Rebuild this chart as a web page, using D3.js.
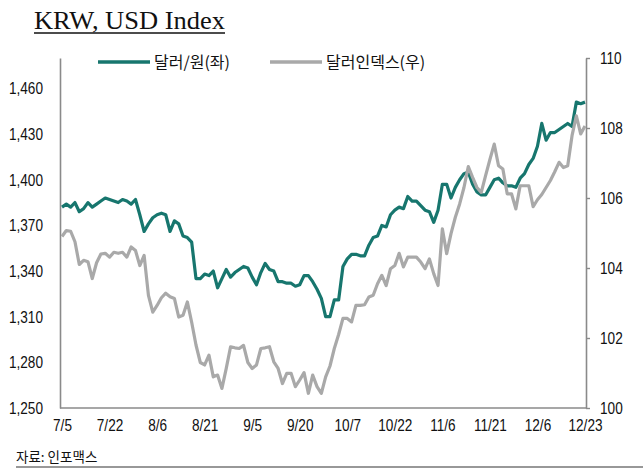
<!DOCTYPE html>
<html>
<head>
<meta charset="utf-8">
<script src="https://cdn.jsdelivr.net/npm/d3@7"></script>
<style>
  body { margin: 0; background: #fff; }
  svg text { font-family: "Liberation Sans Narrow", "Arial Narrow", "Liberation Sans", sans-serif; fill: #111; }
</style>
</head>
<body>
<div id="chart"></div>
<script>
// x axis: one point per weekday, a label every 11 points
const tickLabels = ["7/5", "7/22", "8/6", "8/21", "9/5", "9/20", "10/7", "10/22", "11/6", "11/21", "12/6", "12/23"];
const tickStep = 11;

// 달러/원 (left axis)
const krw = [
  1382, 1384, 1382, 1385, 1379, 1381, 1385, 1382, 1384, 1386,
  1388, 1387, 1386, 1385, 1387, 1386, 1384, 1387, 1377, 1366,
  1371, 1375, 1377, 1378, 1377, 1366, 1373, 1371, 1363, 1362,
  1359, 1335, 1335, 1338, 1337, 1340, 1329, 1335, 1341, 1336,
  1339, 1341, 1343, 1342, 1336, 1331, 1339, 1345, 1341, 1340,
  1333, 1333, 1332, 1332, 1330, 1331, 1337, 1337, 1333, 1328,
  1322, 1310, 1310, 1321, 1321, 1343, 1348, 1351, 1351, 1350,
  1350, 1357, 1362, 1363, 1370, 1369, 1377, 1380, 1382, 1381,
  1389, 1386, 1386, 1383, 1380, 1379, 1372, 1380, 1397, 1397,
  1388, 1395, 1400, 1404, 1405, 1397, 1392, 1390, 1390, 1395,
  1400, 1401, 1398, 1396, 1396, 1395, 1401, 1404, 1410, 1414,
  1422, 1437, 1426, 1431, 1431, 1433, 1435, 1437, 1435, 1451,
  1450, 1451
];

// 달러인덱스 (right axis)
const dxy = [
  104.90, 105.07, 105.05, 104.75, 104.10, 104.22, 104.18, 103.70, 104.15, 104.40,
  104.42, 104.31, 104.45, 104.42, 104.45, 104.31, 104.60, 104.50, 104.07, 104.36,
  103.22, 102.74, 102.93, 103.15, 103.28, 103.18, 103.13, 102.60, 102.65, 103.03,
  102.45, 101.80, 101.30, 101.23, 101.51, 100.89, 100.94, 100.56, 101.13, 101.75,
  101.72, 101.70, 101.79, 101.30, 101.13, 101.23, 101.70, 101.72, 101.75, 101.32,
  101.13, 100.70, 100.99, 100.99, 100.61, 100.80, 101.01, 100.42, 100.94, 100.61,
  100.42, 100.89, 101.20, 101.70, 102.10, 102.56, 102.56, 102.46, 102.93, 102.93,
  102.95, 103.17, 103.22, 103.55, 103.79, 103.50, 103.98, 104.07, 104.42, 104.03,
  104.31, 104.31, 104.31, 104.17, 103.98, 104.26, 103.84, 103.50, 105.12, 104.41,
  104.98, 105.45, 105.83, 106.30, 106.90, 106.59, 106.30, 106.16, 106.64, 107.10,
  107.54, 106.92, 106.83, 106.12, 106.12, 105.69, 106.35, 106.35, 106.35, 105.75,
  105.95, 106.10, 106.30, 106.50, 106.75, 107.02, 106.87, 106.92, 107.78, 108.35,
  107.83, 108.06
];

const leftTicks = [1250, 1280, 1310, 1340, 1370, 1400, 1430, 1460];
const rightTicks = [100, 102, 104, 106, 108, 110];
const seriesNames = ["달러/원(좌)", "달러인덱스(우)"];

const width = 643, height = 476;
const teal = "#17766e", grey = "#a9a9a9", axisColor = "#8a8a8a";

const svg = d3.select("#chart").append("svg")
  .attr("width", width)
  .attr("height", height);

svg.append("rect").attr("width", width).attr("height", height).attr("fill", "#fff");

const plot = { left: 60, right: 586, top: 58, bottom: 408 };

const x = d3.scaleLinear().domain([0, krw.length - 1]).range([62, 585]);
const yL = d3.scaleLinear().domain([1250, 1480]).range([plot.bottom, plot.top]);
const yR = d3.scaleLinear().domain([100, 110]).range([plot.bottom, plot.top]);

// title
const title = svg.append("text")
  .attr("x", 34).attr("y", 29)
  .style("font-family", "'Liberation Serif', 'Times New Roman', serif")
  .style("font-size", "26px")
  .text("KRW, USD Index");
title.attr("textLength", 191).attr("lengthAdjust", "spacingAndGlyphs");
svg.append("line")
  .attr("x1", 34).attr("x2", 225)
  .attr("y1", 33).attr("y2", 33)
  .attr("stroke", "#111").attr("stroke-width", 1.3);

// axes
const leftAxis = d3.axisLeft(yL)
  .tickValues(leftTicks)
  .tickFormat(d3.format(","))
  .tickSize(0).tickSizeOuter(0).tickPadding(17);
const gL = svg.append("g").attr("transform", `translate(${plot.left},0)`).call(leftAxis);

const rightAxis = d3.axisRight(yR)
  .tickValues(rightTicks)
  .tickSize(4).tickSizeOuter(0).tickPadding(10);
const gR = svg.append("g").attr("transform", `translate(${plot.right},0)`).call(rightAxis);

const bottomAxis = d3.axisBottom(x)
  .tickValues(tickLabels.map((d, i) => i * tickStep))
  .tickFormat((d, i) => tickLabels[i])
  .tickSize(0).tickSizeOuter(0).tickPadding(11);
const gB = svg.append("g").attr("transform", `translate(0,${plot.bottom})`).call(bottomAxis);
gB.select(".domain").attr("d", `M${plot.left},0H${plot.right}`);

[gL, gR, gB].forEach(g => {
  g.select(".domain").attr("stroke", axisColor).attr("stroke-width", 1.6);
  g.selectAll(".tick line").attr("stroke", axisColor).attr("stroke-width", 1.4);
  g.selectAll(".tick text")
    .attr("fill", "#111")
    .style("font-family", "'Liberation Sans Narrow', 'Arial Narrow', 'Liberation Sans', sans-serif")
    .style("font-size", "17px")
    .each(function () {
      // narrow the glyphs the way Arial Narrow would
      const w = this.getComputedTextLength();
      d3.select(this).attr("textLength", w * 0.8).attr("lengthAdjust", "spacingAndGlyphs");
    });
});

// lines
const lineL = d3.line().x((d, i) => x(i)).y(d => yL(d));
const lineR = d3.line().x((d, i) => x(i)).y(d => yR(d));

svg.append("path")
  .datum(krw)
  .attr("d", lineL)
  .attr("fill", "none")
  .attr("stroke", teal)
  .attr("stroke-width", 3.2)
  .attr("stroke-linejoin", "round");

svg.append("path")
  .datum(dxy)
  .attr("d", lineR)
  .attr("fill", "none")
  .attr("stroke", grey)
  .attr("stroke-width", 3.2)
  .attr("stroke-linejoin", "round");

// legend
const legend = [
  { name: seriesNames[0], color: teal, x: 98 },
  { name: seriesNames[1], color: grey, x: 270 }
];
legend.forEach(d => {
  svg.append("line")
    .attr("x1", d.x).attr("x2", d.x + 52)
    .attr("y1", 62).attr("y2", 62)
    .attr("stroke", d.color).attr("stroke-width", 3.5);
  svg.append("text")
    .attr("x", d.x + 56).attr("y", 62)
    .attr("dy", "0.35em")
    .style("font-family", "'Noto Sans CJK KR', sans-serif")
    .style("font-size", "16px")
    .text(d.name);
});

// source
svg.append("text")
  .attr("x", 16).attr("y", 457)
  .attr("dy", "0.35em")
  .style("font-family", "'Noto Sans CJK KR', sans-serif")
  .style("font-size", "13.5px")
  .text("자료: 인포맥스");
svg.append("line")
  .attr("x1", 16).attr("x2", width)
  .attr("y1", 467).attr("y2", 467)
  .attr("stroke", "#333").attr("stroke-width", 1.2);
</script>
</body>
</html>
